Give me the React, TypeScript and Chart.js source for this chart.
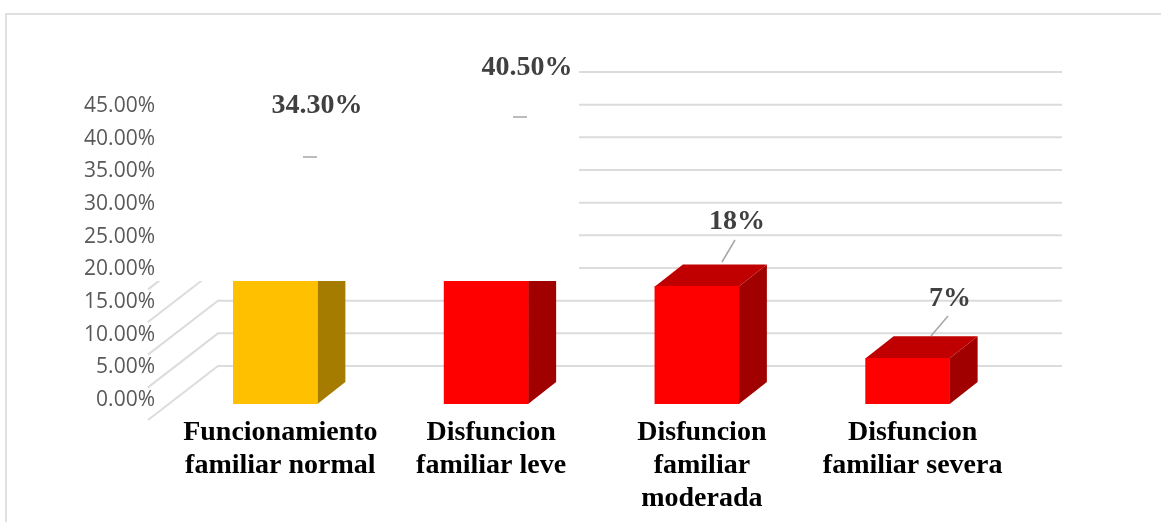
import React, { useEffect, useRef } from "react";
import { Chart, registerables } from "chart.js";

Chart.register(...registerables);

const categories = [
  ["Funcionamiento", "familiar normal"],
  ["Disfuncion", "familiar leve"],
  ["Disfuncion", "familiar", "moderada"],
  ["Disfuncion", "familiar severa"],
];
const values = [34.3, 40.5, 18, 7];
const valueLabels = ["34.30%", "40.50%", "18%", "7%"];
const frontColors = ["#FFC000", "#FF0000", "#FF0000", "#FF0000"];
const sideColors = ["#A67C00", "#A00000", "#A00000", "#A00000"];
const topColors = ["#BF9000", "#C00000", "#C00000", "#C00000"];

const GRID = "#DCDCDC";
const DEPTH_X = 28;
const DEPTH_Y = 22;
const WALL_DY = 38;
const FLOOR_LEFT = 148;
const WALL_RIGHT = 1062;
const MASK = { left: 148, right: 579, top: 16, bottom: 281 };
const labelCenters = [
  [317, 106],
  [527, 68],
  [737, 222],
  [950, 299],
];
const leaders = [
  [303, 157, 317, 157],
  [513, 117, 527, 117],
  [722, 262, 735, 240],
  [931, 336, 948, 316],
];

const depthPlugin = {
  id: "depth",
  beforeDatasetsDraw(chart: any) {
    const { ctx } = chart;
    const y = chart.scales.y;
    ctx.save();
    ctx.strokeStyle = "#E0E0E0";
    ctx.lineWidth = 2;
    ctx.beginPath();
    ctx.moveTo(1161, 14);
    ctx.lineTo(6, 14);
    ctx.lineTo(6, 522);
    ctx.stroke();
    ctx.strokeStyle = GRID;
    ctx.lineWidth = 2;
    const wallLeft = FLOOR_LEFT + 70;
    for (const t of y.ticks) {
      const py = y.getPixelForValue(t.value);
      ctx.beginPath();
      ctx.moveTo(FLOOR_LEFT, py + 16);
      ctx.lineTo(wallLeft, py - WALL_DY);
      ctx.lineTo(WALL_RIGHT, py - WALL_DY);
      ctx.stroke();
    }
    // the side and top faces of every bar
    const meta = chart.getDatasetMeta(0);
    meta.data.forEach((bar: any, i: number) => {
      const half = bar.width / 2;
      const r = bar.x + half;
      const l = bar.x - half;
      const top = bar.y;
      const base = bar.base;
      ctx.fillStyle = sideColors[i];
      ctx.beginPath();
      ctx.moveTo(r, top);
      ctx.lineTo(r + DEPTH_X, top - DEPTH_Y);
      ctx.lineTo(r + DEPTH_X, base - DEPTH_Y);
      ctx.lineTo(r, base);
      ctx.closePath();
      ctx.fill();
      ctx.fillStyle = topColors[i];
      ctx.beginPath();
      ctx.moveTo(l, top);
      ctx.lineTo(l + DEPTH_X, top - DEPTH_Y);
      ctx.lineTo(r + DEPTH_X, top - DEPTH_Y);
      ctx.lineTo(r, top);
      ctx.closePath();
      ctx.fill();
    });
    ctx.restore();
  },
  afterDatasetsDraw(chart: any) {
    const { ctx } = chart;
    ctx.save();
    ctx.fillStyle = "#FFFFFF";
    ctx.fillRect(MASK.left, MASK.top, MASK.right - MASK.left, MASK.bottom - MASK.top);
    ctx.strokeStyle = "#A6A6A6";
    ctx.lineWidth = 1.5;
    leaders.forEach(([x1, y1, x2, y2]) => {
      ctx.beginPath();
      ctx.moveTo(x1, y1);
      ctx.lineTo(x2, y2);
      ctx.stroke();
    });
    ctx.fillStyle = "#404040";
    ctx.font = 'bold 28px "Liberation Serif"';
    ctx.textAlign = "center";
    ctx.textBaseline = "middle";
    valueLabels.forEach((text, i) => {
      ctx.fillText(text, labelCenters[i][0], labelCenters[i][1]);
    });
    ctx.restore();
  },
};

export default function App() {
  const ref = useRef<HTMLCanvasElement>(null);
  useEffect(() => {
    const chart = new Chart(ref.current!, {
      type: "bar",
      data: {
        labels: categories as any,
        datasets: [
          {
            data: values,
            backgroundColor: frontColors,
            barThickness: 84,
          },
        ],
      },
      options: {
        animation: false,
        responsive: false,
        layout: { padding: { top: 110, right: 148, left: 0, bottom: 0 } },
        plugins: { legend: { display: false }, tooltip: { enabled: false } },
        scales: {
          x: {
            afterFit: (s: any) => {
              s.height = 118;
            },
            grid: { display: false, drawTicks: false },
            border: { display: false },
            ticks: {
              color: "#000000",
              padding: 12,
              labelOffset: 5,
              maxRotation: 0,
              autoSkip: false,
              font: { family: '"Liberation Serif"', size: 28, weight: "bold", lineHeight: 1.18 },
            },
          },
          y: {
            min: 0,
            max: 45,
            afterFit: (s: any) => {
              s.width = 170;
            },
            grid: { display: false, drawTicks: false },
            border: { display: false },
            ticks: {
              z: 1,
              stepSize: 5,
              color: "#595959",
              padding: 15,
              labelOffset: -4,
              font: { family: '"Open Sans"', size: 21 },
              callback: (v: any) => Number(v).toFixed(2) + "%",
            },
          },
        },
      },
      plugins: [depthPlugin],
    } as any);
    return () => chart.destroy();
  }, []);
  return (
    <div style={{ position: "fixed", left: 0, top: 0, width: 1161, height: 522, background: "#fff" }}>
      <canvas ref={ref} width={1161} height={522} style={{ display: "block" }} />
    </div>
  );
}
